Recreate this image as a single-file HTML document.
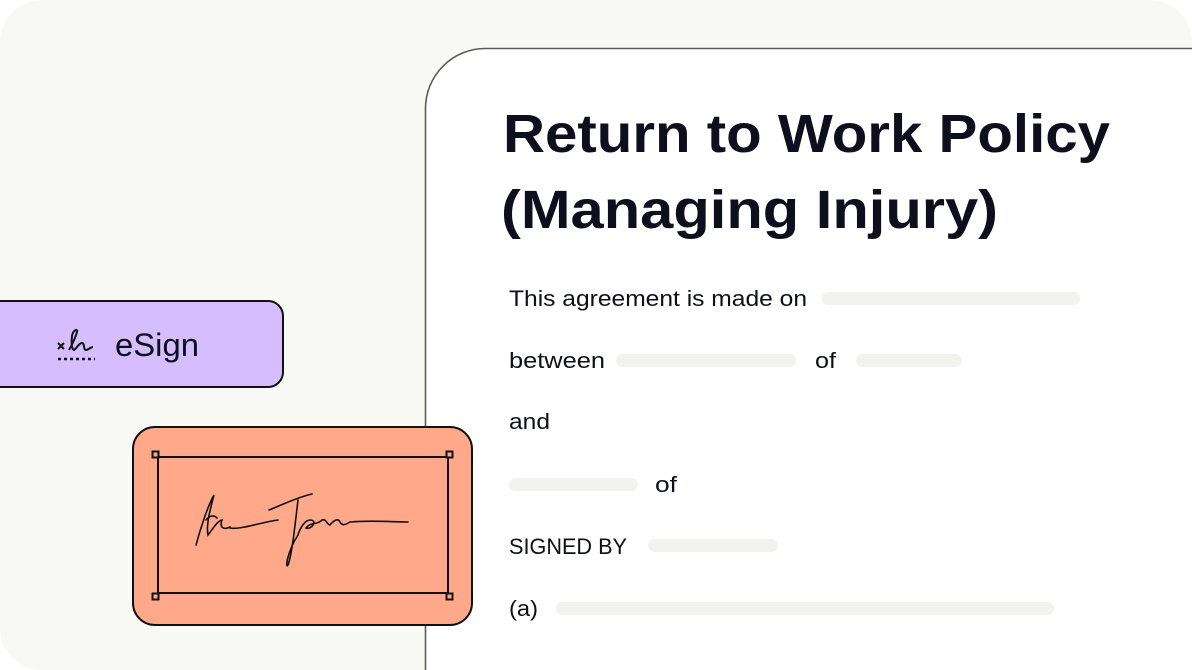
<!DOCTYPE html>
<html><head><meta charset="utf-8"><style>
html,body{margin:0;padding:0;background:#fff;}
svg{display:block;}
text{font-family:"Liberation Sans",sans-serif;fill:#0d0f1c;}
</style></head><body>
<svg width="1192" height="670" viewBox="0 0 1192 670" xmlns="http://www.w3.org/2000/svg">
<rect x="0" y="0" width="1192" height="670" rx="42" fill="#f8f8f5"/>
<path d="M425.5 680 V108 A60 60 0 0 1 485.5 48.5 H1200 V680 Z" fill="#fff" stroke="#5c5c55" stroke-width="1.6"/>
<text x="503" y="152" font-size="54" font-weight="bold" textLength="607" lengthAdjust="spacingAndGlyphs">Return to Work Policy</text>
<text x="501" y="228" font-size="54" font-weight="bold" textLength="497" lengthAdjust="spacingAndGlyphs">(Managing Injury)</text>
<g font-size="22">
<text x="509" y="306" textLength="298" lengthAdjust="spacingAndGlyphs">This agreement is made on</text>
<text x="509" y="368" textLength="96" lengthAdjust="spacingAndGlyphs">between</text>
<text x="815" y="368" textLength="21" lengthAdjust="spacingAndGlyphs">of</text>
<text x="509" y="429" textLength="41" lengthAdjust="spacingAndGlyphs">and</text>
<text x="655" y="492" textLength="22" lengthAdjust="spacingAndGlyphs">of</text>
<text x="509" y="554" textLength="118" lengthAdjust="spacingAndGlyphs">SIGNED BY</text>
<text x="509" y="616" textLength="29" lengthAdjust="spacingAndGlyphs">(a)</text>
</g>
<g fill="#f2f2ee">
<rect x="822" y="292" width="258" height="13" rx="6.5"/>
<rect x="616" y="354" width="180" height="13" rx="6.5"/>
<rect x="856" y="354" width="106" height="13" rx="6.5"/>
<rect x="509" y="478" width="129" height="13" rx="6.5"/>
<rect x="648" y="539" width="130" height="13" rx="6.5"/>
<rect x="556" y="602" width="498" height="13" rx="6.5"/>
</g>
<rect x="-20" y="301" width="303" height="86" rx="15" fill="#d6bdfd" stroke="#111" stroke-width="2"/>
<g stroke="#111" stroke-width="2" fill="none">
<path d="M58 343 l6 6 M64 343 l-6 6"/>
<path d="M69 350 C72 345 76 336 77 332 C78 328 73 330 72 336 C71 343 72 350 74 350 C77 348 79 343 82 343 C85 343 83 350 86 350 C88 350 91 347 93 347"/>
<path d="M58 359 H95" stroke-dasharray="3 3" stroke-width="2.5"/>
</g>
<text x="115" y="356" font-size="32" textLength="84" lengthAdjust="spacingAndGlyphs">eSign</text>
<rect x="133" y="427" width="339" height="198" rx="22" fill="#ffa98a" stroke="#111" stroke-width="2"/>
<g stroke="#111" stroke-width="2" fill="none">
<rect x="158" y="457" width="290" height="136"/>
<rect x="152.5" y="451.5" width="6" height="6" fill="#ffa98a"/>
<rect x="446.5" y="451.5" width="6" height="6" fill="#ffa98a"/>
<rect x="152.5" y="593.5" width="6" height="6" fill="#ffa98a"/>
<rect x="446.5" y="593.5" width="6" height="6" fill="#ffa98a"/>
</g>
<g stroke="#111" stroke-width="1.6" fill="none" stroke-linecap="round">
<path d="M196 545 C200 530 208 505 214 495 C210 510 206 525 208 535 C212 530 218 520 222 520 C219 528 224 530 230 527"/>
<path d="M206 520 C210 515 214 515 217 518"/>
<path d="M230 528 C240 530 262 522 278 520"/>
<path d="M269 510 C282 505 295 498 312 494 M298 500 C295 525 292 555 288 565 C285 570 287 552 298 535 C300 528 305 520 310 520 C318 520 312 530 306 528 C310 522 318 525 322 520 C326 518 327 525 330 525 C334 520 338 518 340 522 C342 526 345 525 350 522 C370 520 395 522 408 522"/>
</g>
</svg>
</body></html>
